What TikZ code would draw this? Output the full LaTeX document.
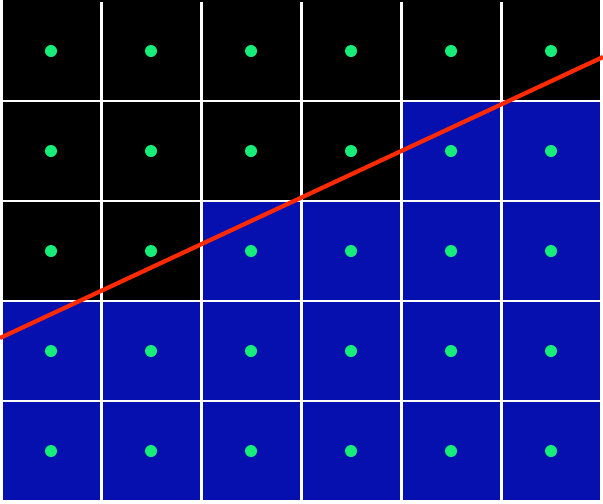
\documentclass[tikz,border=0pt]{standalone}
\definecolor{outbg}{HTML}{000000}
\definecolor{inblue}{HTML}{0610AE}
\definecolor{dotgreen}{HTML}{17EE7A}
\definecolor{splitred}{HTML}{FF2A00}
\begin{document}
\begin{tikzpicture}[x=0.01cm,y=-0.01cm,
  cellout/.style={fill=outbg},
  cellin/.style={fill=inblue},
  probe/.style={circle, fill=dotgreen, inner sep=0pt, minimum size=0.12cm},
  boundary/.style={draw=splitred, line width=1.2pt},
]
% white sheet = grid lines
\fill[white] (0,0) rectangle (603,503);
\useasboundingbox (0,0) rectangle (603,503);
% all tiles black first
\foreach \c in {0,...,5}
  \foreach \r in {0,...,4}
    \fill[cellout] (100*\c+3,100*\r+2) rectangle (100*\c+100,100*\r+100);
\fill[cellout] (3,0) rectangle (600,2);
% tiles below the line
\foreach \c/\r in {4/1,5/1,2/2,3/2,4/2,5/2,0/3,1/3,2/3,3/3,4/3,5/3,0/4,1/4,2/4,3/4,4/4,5/4}
  \fill[cellin] (100*\c+3,100*\r+2) rectangle (100*\c+100,100*\r+100);
% tile centres
\foreach \c in {0,...,5}
  \foreach \r in {0,...,4}
    \node[probe] (p-\c-\r) at (100*\c+51,100*\r+51) {};
% separating line
\coordinate (lineL) at (0,338);
\coordinate (lineR) at (603,57);
\draw[boundary] (lineL) -- (lineR);
\end{tikzpicture}
\end{document}
